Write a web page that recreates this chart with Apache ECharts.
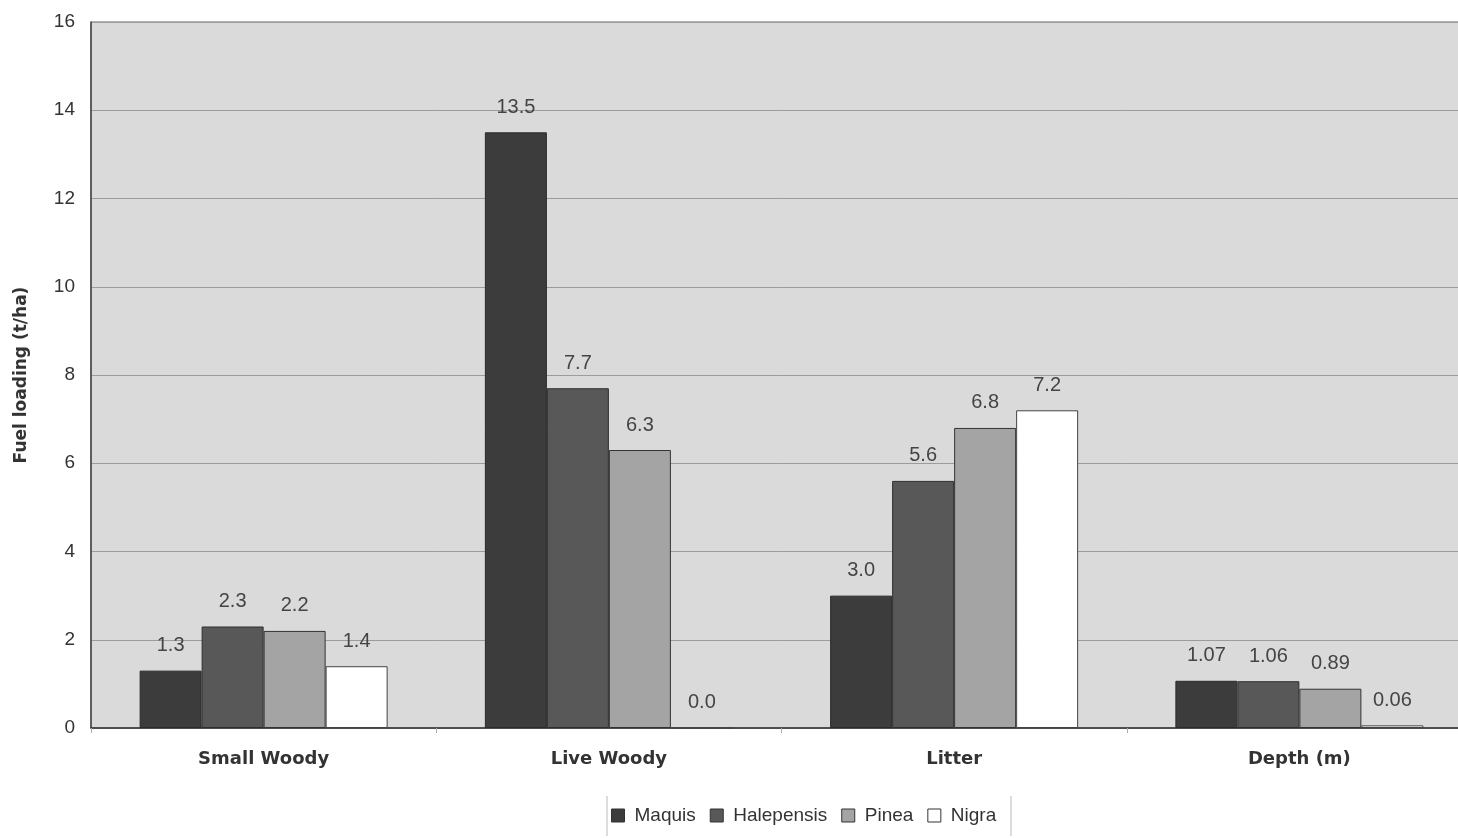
<!DOCTYPE html>
<html>
<head>
<meta charset="utf-8">
<script src="https://cdn.jsdelivr.net/npm/echarts@6/dist/echarts.min.js"></script>
<style>
html,body{margin:0;padding:0;background:#fff;overflow:hidden;}
#c{width:1472px;height:838px;}
</style>
</head>
<body>
<div id="c"></div>
<script>
const categories = ['Small Woody', 'Live Woody', 'Litter', 'Depth (m)'];
const seriesNames = ['Maquis', 'Halepensis', 'Pinea', 'Nigra'];
const maquis = [1.3, 13.5, 3.0, 1.07];
const halepensis = [2.3, 7.7, 5.6, 1.06];
const pinea = [2.2, 6.3, 6.8, 0.89];
const nigra = [1.4, 0.0, 7.2, 0.06];
const yTicks = [0, 2, 4, 6, 8, 10, 12, 14, 16];

const values = [maquis, halepensis, pinea, nigra];
const fills = ['#3c3c3c', '#585858', '#a4a4a4', '#ffffff'];
const borders = ['#2a2a2a', '#2e2e2e', '#333333', '#444444'];

const chart = echarts.init(document.getElementById('c'));
chart.setOption({
  animation: false,
  textStyle: { fontFamily: 'Liberation Sans, Arial, sans-serif' },
  grid: {
    left: 91, right: 0, top: 22, bottom: 110,
    show: true, backgroundColor: '#dadada', borderColor: '#666', borderWidth: 1
  },
  graphic: [
    { type: 'line', shape: { x1: 607, y1: 796, x2: 607, y2: 836 }, style: { stroke: '#bbb', lineWidth: 1 } },
    { type: 'line', shape: { x1: 1011, y1: 796, x2: 1011, y2: 836 }, style: { stroke: '#bbb', lineWidth: 1 } }
  ],
  legend: {
    data: seriesNames,
    bottom: 8, left: 606,
    icon: 'rect', itemWidth: 13, itemHeight: 13, itemGap: 14,
    textStyle: { fontSize: 19, color: '#333', padding: [0, 0, 0, 5] },
    itemStyle: { borderColor: '#333', borderWidth: 1 }
  },
  xAxis: {
    type: 'category', data: categories,
    axisLine: { lineStyle: { color: '#333', width: 1.5 } },
    axisTick: { show: true, length: 5, lineStyle: { color: '#aaa' } },
    splitLine: { show: false },
    axisLabel: { fontSize: 18, fontWeight: 'bold', color: '#333', margin: 22, fontFamily: 'DejaVu Sans' }
  },
  yAxis: {
    type: 'value', min: yTicks[0], max: yTicks[yTicks.length - 1], interval: 2,
    name: 'Fuel loading (t/ha)', nameLocation: 'middle', nameGap: 61, nameRotate: 90,
    nameTextStyle: { fontSize: 17, fontWeight: 'bold', color: '#333', fontFamily: 'DejaVu Sans' },
    axisLine: { show: true, lineStyle: { color: '#444', width: 1.5 } },
    axisTick: { show: false },
    splitLine: { lineStyle: { color: '#9c9c9c', width: 1 } },
    axisLabel: { fontSize: 19, color: '#333', margin: 16 }
  },
  series: seriesNames.map((name, i) => ({
    name: name, type: 'bar',
    data: values[i],
    barWidth: 62, barGap: '0%',
    itemStyle: { color: fills[i], borderColor: borders[i], borderWidth: 1 },
    label: {
      show: true, position: 'top', distance: 15,
      fontSize: 20, color: '#444',
      formatter: p => p.dataIndex === 3 ? p.value.toFixed(2) : p.value.toFixed(1)
    }
  }))
});
</script>
</body>
</html>
